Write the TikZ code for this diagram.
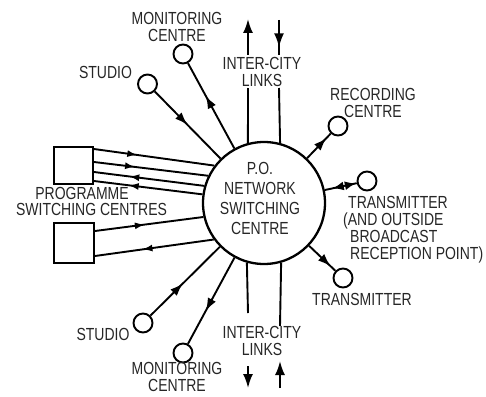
\documentclass[tikz,border=0pt]{standalone}
\usepackage{fontspec}
\setmainfont{Liberation Sans}[FakeStretch=0.8]
\usetikzlibrary{arrows.meta,decorations.markings}
\begin{document}
\begin{tikzpicture}[x=1pt,y=-1pt,
  lbl/.style={font=\fontsize{17.5}{17}\selectfont, inner sep=0, align=center, text=black!85},
  ln/.style={line width=1.9pt},
  smallc/.style={circle,draw,line width=1.9pt,minimum size=19pt,inner sep=0},
  boxn/.style={draw,line width=1.9pt,inner sep=0},
  marr/.style={postaction={decorate,decoration={markings,mark=at position #1 with {\arrow{Latex[length=13pt,width=9pt]}}}}},
  sarr/.style={postaction={decorate,decoration={markings,mark=at position #1 with {\arrow{Latex[length=10pt,width=7pt]}}}}},
  barr/.style={postaction={decorate,decoration={markings,mark=at position #1 with {\arrow{Latex[length=14pt,width=10pt]}}}}},
  endarr/.style={-{Latex[length=14pt,width=10pt]}}
]
\useasboundingbox (0,0) rectangle (486,396);

% central switching centre
\node[circle,draw,line width=2.3pt,minimum size=122pt,inner sep=0] (c) at (264,203) {};
\node[lbl,font=\fontsize{17.5}{20}\selectfont] (ct) at (260,198) {P.O.\\NETWORK\\SWITCHING\\CENTRE};

% programme switching centres
\node[boxn,minimum width=39pt,minimum height=37pt] (b1) at (73.5,165.5) {};
\node[boxn,minimum width=40pt,minimum height=40pt] (b2) at (74,243) {};

% small circles
\node[smallc] (s1) at (147.5,84) {};
\node[smallc] (m1) at (183,54) {};
\node[smallc] (r)  at (338,126) {};
\node[smallc] (t1) at (367,181) {};
\node[smallc] (t2) at (343,278) {};
\node[smallc] (s2) at (143,323) {};
\node[smallc] (m2) at (183,353) {};

% spokes
\draw[ln,marr=0.5] (s1) -- (c);
\draw[ln,marr=0.62] (c) -- (m1);
\draw[ln,marr=0.82] (c) -- (r);
\draw[ln,postaction={decorate,decoration={markings,
   mark=at position 0.25 with {\arrowreversed{Latex[length=11pt,width=9pt]}},
   mark=at position 0.97 with {\arrow{Latex[length=11pt,width=9pt]}}}}] (c) -- (t1);
\draw[ln,marr=0.82] (c) -- (t2);
\draw[ln,marr=0.47] (s2) -- (c);
\draw[ln,marr=0.62] (c) -- (m2);

% box links
\draw[ln,sarr=0.36] ([yshift=16.5pt]b1.east) -- (c.143.7);
\draw[ln,sarr=0.36] ([yshift=3.5pt]b1.east) -- (c.154.7);
\draw[ln,sarr=0.68] (c.164.8) -- ([yshift=-6.5pt]b1.east);
\draw[ln,sarr=0.68] (c.172.5) -- ([yshift=-15.5pt]b1.east);
\draw[ln,sarr=0.46] ([yshift=12pt]b2.east) -- (c.193.3);
\draw[ln,sarr=0.6] (c.216.2) -- ([yshift=-13pt]b2.east);

% inter-city links, top
\coordinate (u1) at (248,88);
\coordinate (u2) at (279,88);
\draw[ln] (c.105.2) -- (u1);
\draw[ln] (c.75.8) -- (u2);
\coordinate (ua1) at (248,55);
\coordinate (ua2) at (248,19);
\draw[ln,endarr] (ua1) -- (ua2);
\coordinate (ub1) at (279,20);
\coordinate (ub2) at (279,55);
\draw[ln,barr=0.78] (ub1) -- (ub2);

% inter-city links, bottom
\coordinate (d1) at (248,313);
\coordinate (d2) at (280,326);
\draw[ln] (c.254.8) -- (d1);
\draw[ln] (c.286.2) -- (d2);
\coordinate (da1) at (248,366);
\coordinate (da2) at (248,388);
\draw[ln,endarr] (da1) -- (da2);
\coordinate (db1) at (280,388);
\coordinate (db2) at (280,361);
\draw[ln,endarr] (db1) -- (db2);

% labels
\node[lbl] (lm1) at (177,26.5) {MONITORING\\CENTRE};
\node[lbl] (ls1) at (105.5,72) {STUDIO};
\node[lbl] (lit1) at (262,71.5) {INTER-CITY\\LINKS};
\node[lbl] (lrc) at (373,102.5) {RECORDING\\CENTRE};
\node[lbl,align=left,anchor=north west] (lt1) at (343,196.5) {\hspace*{5pt}TRANSMITTER\\(AND OUTSIDE\\\hspace*{7pt}BROADCAST\\\hspace*{7pt}RECEPTION POINT)};
\node[lbl] (lp1) at (82,193) {PROGRAMME};
\node[lbl] (lp2) at (91.5,209) {SWITCHING CENTRES};
\node[lbl] (lt2) at (362,299) {TRANSMITTER};
\node[lbl] (lit2) at (262,341) {INTER-CITY\\LINKS};
\node[lbl] (ls2) at (103,334) {STUDIO};
\node[lbl] (lm2) at (177,377) {MONITORING\\CENTRE};
\end{tikzpicture}
\end{document}
